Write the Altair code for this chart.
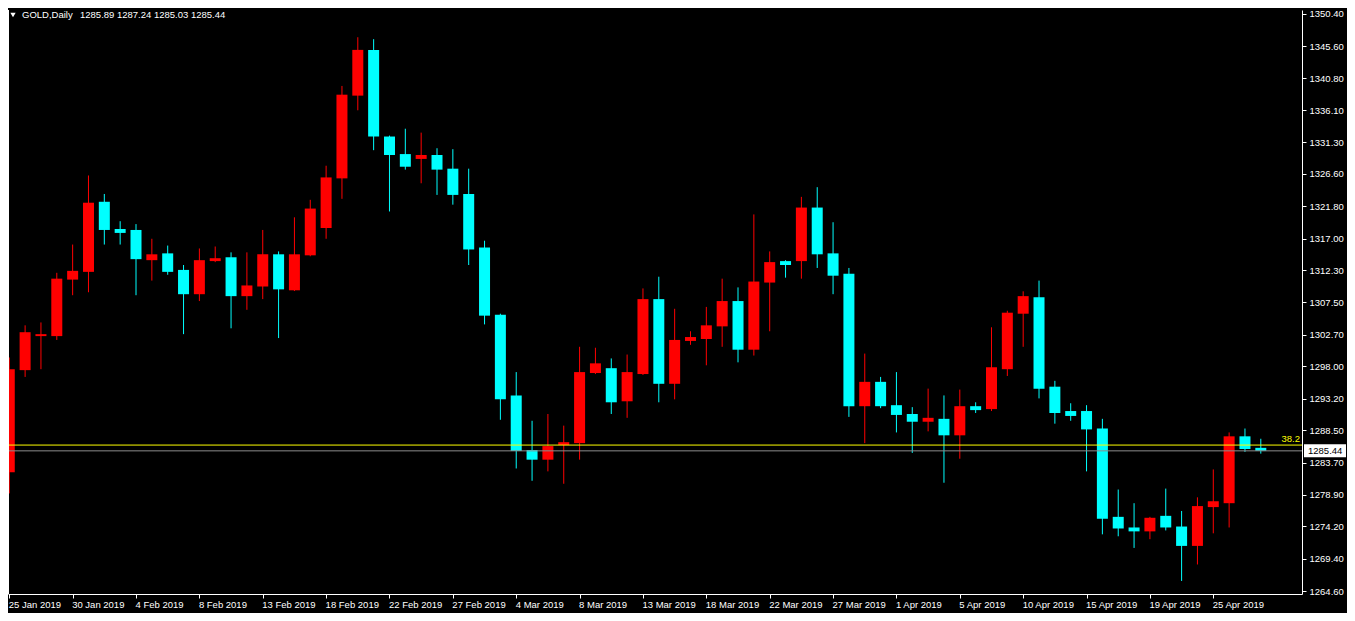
import json
import altair as alt
import pandas as pd

symbol = "GOLD"
timeframe = "Daily"

opens = [1282.25, 1297.44, 1302.50, 1302.50, 1310.90, 1312.05, 1322.47, 1318.42, 1318.28, 1313.79,
         1314.80, 1312.34, 1308.73, 1313.65, 1314.22, 1308.44, 1309.88, 1314.66, 1309.31, 1314.51,
         1318.57, 1325.95, 1338.25, 1345.05, 1332.17, 1329.56, 1328.84, 1329.42, 1327.39, 1323.63,
         1315.67, 1305.69, 1293.68, 1285.57, 1284.13, 1286.30, 1286.59, 1297.01, 1297.73, 1292.81,
         1296.86, 1308.00, 1295.41, 1301.78, 1302.07, 1303.95, 1307.71, 1300.48, 1310.46, 1313.65,
         1313.65, 1321.61, 1314.80, 1311.77, 1292.08, 1295.70, 1292.23, 1290.92, 1289.77, 1290.20,
         1287.75, 1292.08, 1291.65, 1297.58, 1305.83, 1308.29, 1294.98, 1291.36, 1291.36, 1288.76,
         1275.63, 1274.05, 1273.47, 1275.78, 1274.19, 1271.31, 1277.08, 1277.66, 1287.60, 1285.89]
highs = [1299.32, 1304.10, 1304.53, 1311.91, 1316.11, 1326.38, 1323.63, 1319.58, 1319.15, 1316.97,
         1315.96, 1313.07, 1315.53, 1315.82, 1314.95, 1314.95, 1318.28, 1315.09, 1320.16, 1322.76,
         1327.83, 1339.69, 1346.93, 1346.64, 1332.31, 1333.33, 1332.75, 1330.43, 1330.29, 1327.39,
         1316.68, 1305.83, 1297.15, 1289.91, 1290.92, 1289.19, 1300.91, 1300.77, 1299.18, 1299.76,
         1309.59, 1311.33, 1306.56, 1303.22, 1306.84, 1311.04, 1309.74, 1320.59, 1315.09, 1313.79,
         1323.20, 1324.64, 1319.43, 1312.63, 1299.90, 1296.43, 1297.15, 1291.94, 1294.69, 1293.68,
         1294.55, 1292.66, 1303.81, 1306.27, 1309.16, 1310.75, 1295.85, 1292.52, 1292.23, 1290.20,
         1279.69, 1277.66, 1275.63, 1279.83, 1276.50, 1278.53, 1282.68, 1288.18, 1288.76, 1287.24]
lows = [1279.11, 1296.43, 1297.58, 1301.93, 1308.58, 1309.02, 1316.11, 1316.11, 1308.58, 1310.75,
        1311.62, 1302.79, 1307.71, 1313.50, 1303.66, 1306.41, 1308.00, 1302.21, 1309.20, 1314.37,
        1316.97, 1322.91, 1336.07, 1330.14, 1321.03, 1327.25, 1325.22, 1323.49, 1322.04, 1313.07,
        1304.24, 1290.06, 1282.82, 1280.99, 1282.39, 1280.55, 1284.13, 1296.86, 1290.92, 1290.35,
        1296.72, 1292.66, 1293.10, 1301.20, 1298.16, 1300.91, 1298.60, 1299.61, 1303.22, 1311.19,
        1311.04, 1312.63, 1308.73, 1290.49, 1286.59, 1291.79, 1288.18, 1285.14, 1288.34, 1280.70,
        1284.27, 1291.07, 1291.36, 1296.57, 1300.91, 1293.24, 1289.48, 1289.91, 1282.39, 1273.03,
        1272.74, 1271.01, 1272.31, 1273.61, 1266.10, 1268.55, 1273.18, 1274.05, 1285.28, 1285.03]
closes = [1297.58, 1303.08, 1302.79, 1311.04, 1312.20, 1322.33, 1318.28, 1317.84, 1313.94, 1314.66,
          1312.05, 1308.73, 1313.79, 1314.08, 1308.44, 1310.03, 1314.66, 1309.45, 1314.66, 1321.46,
          1326.09, 1338.39, 1345.05, 1332.17, 1329.42, 1327.68, 1329.42, 1327.25, 1323.49, 1315.38,
          1305.54, 1293.10, 1285.43, 1284.13, 1286.15, 1286.73, 1297.15, 1298.45, 1292.66, 1297.15,
          1308.00, 1295.41, 1301.93, 1302.36, 1304.10, 1307.71, 1300.48, 1310.61, 1313.50, 1313.07,
          1321.61, 1314.66, 1311.48, 1292.08, 1295.70, 1292.08, 1290.78, 1289.77, 1290.35, 1287.75,
          1292.08, 1291.50, 1297.87, 1305.98, 1308.44, 1294.69, 1291.07, 1290.63, 1288.63, 1275.35,
          1273.90, 1273.47, 1275.49, 1274.05, 1271.31, 1277.23, 1277.95, 1287.60, 1285.72, 1285.44]

date_labels = ["25 Jan 2019", "30 Jan 2019", "4 Feb 2019", "8 Feb 2019", "13 Feb 2019",
               "18 Feb 2019", "22 Feb 2019", "27 Feb 2019", "4 Mar 2019", "8 Mar 2019",
               "13 Mar 2019", "18 Mar 2019", "22 Mar 2019", "27 Mar 2019", "1 Apr 2019",
               "5 Apr 2019", "10 Apr 2019", "15 Apr 2019", "19 Apr 2019", "25 Apr 2019"]
date_tick_bars = [0, 4, 8, 12, 16, 20, 24, 28, 32, 36, 40, 44, 48, 52, 56, 60, 64, 68, 72, 76]

price_ticks = [1350.40, 1345.60, 1340.80, 1336.10, 1331.30, 1326.60, 1321.80, 1317.00, 1312.30,
               1307.50, 1302.70, 1298.00, 1293.20, 1288.50, 1283.70, 1278.90, 1274.20, 1269.40,
               1264.60]

fibo_level = 1286.30
fibo_label = "38.2"
bid_price = closes[-1]

W = 1294
H = 584
FONT = "Liberation Sans"
FS = 9.5
UP = "#ff0000"
DOWN = "#00ffff"

df = pd.DataFrame({"bar": list(range(len(opens))), "open": opens, "high": highs,
                   "low": lows, "close": closes})

xscale = alt.Scale(domain=[-0.08, 81.6], nice=False, zero=False, padding=0)
yscale = alt.Scale(domain=[1264.16, 1350.98], nice=False, zero=False, padding=0)

label_expr = json.dumps(date_labels) + "[round(datum.value / 4)]"

xaxis = alt.Axis(values=date_tick_bars, labelExpr=label_expr, orient="bottom", grid=False,
                 title=None, domainColor="white", tickColor="white", labelColor="white",
                 tickSize=4, labelPadding=1, labelAlign="left", labelOffset=-1,
                 labelFont=FONT, labelFontSize=FS, labelOverlap=False, labelFlush=False,
                 domainWidth=1, tickWidth=1)
yaxis = alt.Axis(values=price_ticks, format=".2f", orient="right", grid=False, title=None,
                 domainColor="white", tickColor="white", labelColor="white", tickSize=4,
                 labelPadding=3, labelAlign="left", labelBaseline="middle", labelFont=FONT,
                 labelFontSize=FS, labelOverlap=False, labelFlush=False, domainWidth=1,
                 tickWidth=1)

color = alt.condition("datum.close >= datum.open", alt.value(UP), alt.value(DOWN))

base = alt.Chart(df)

wicks = base.mark_rule(strokeWidth=1, clip=True).encode(
    x=alt.X("bar:Q", scale=xscale, axis=xaxis),
    y=alt.Y("low:Q", scale=yscale, axis=yaxis),
    y2="high:Q",
    color=color,
)

bodies = base.mark_bar(size=11, clip=True).encode(
    x=alt.X("bar:Q", scale=xscale, axis=xaxis),
    y=alt.Y("open:Q", scale=yscale, axis=yaxis),
    y2="close:Q",
    color=color,
)

levels = pd.DataFrame({"price": [fibo_level], "label": [fibo_label]})
fibo_line = alt.Chart(levels).mark_rule(color="#ffff00", strokeWidth=1).encode(
    y=alt.Y("price:Q", scale=yscale, axis=yaxis))
fibo_text = alt.Chart(levels).mark_text(color="#ffff00", font=FONT, fontSize=FS, align="right",
                                        baseline="bottom", dy=-1).encode(
    y=alt.Y("price:Q", scale=yscale, axis=yaxis), x=alt.value(W - 2), text="label:N")

bid = pd.DataFrame({"price": [bid_price], "label": [f"{bid_price:.2f}"]})
bid_line = alt.Chart(bid).mark_rule(color="#8c8c8c", strokeWidth=1).encode(
    y=alt.Y("price:Q", scale=yscale, axis=yaxis))
bid_box = alt.Chart(bid).mark_point(
    shape="M-1,-0.31L1,-0.31L1,0.31L-1,0.31Z", size=42 * 42, filled=True, opacity=1,
    color="white", strokeWidth=0).encode(
    y=alt.Y("price:Q", scale=yscale, axis=yaxis), x=alt.value(W + 23))
bid_text = alt.Chart(bid).mark_text(color="black", font=FONT, fontSize=FS, align="left",
                                    baseline="middle").encode(
    y=alt.Y("price:Q", scale=yscale, axis=yaxis), x=alt.value(W + 6), text="label:N")

left_border = alt.Chart(df).mark_rule(color="white", strokeWidth=1).encode(
    x=alt.value(0.5), y=alt.value(0), y2=alt.value(H))

header = pd.DataFrame({
    "name": [f"{symbol},{timeframe}"],
    "ohlc": [" ".join(f"{v:.2f}" for v in (opens[-1], highs[-1], lows[-1], closes[-1]))],
})
tri = alt.Chart(header).mark_point(shape="triangle-down", filled=True, color="white",
                                   opacity=1, size=28, strokeWidth=0).encode(
    x=alt.value(5), y=alt.value(5))
head_name = alt.Chart(header).mark_text(color="white", font=FONT, fontSize=FS, align="left",
                                        baseline="middle").encode(
    x=alt.value(14), y=alt.value(5), text="name:N")
head_ohlc = alt.Chart(header).mark_text(color="white", font=FONT, fontSize=FS, align="left",
                                        baseline="middle").encode(
    x=alt.value(72), y=alt.value(5), text="ohlc:N")

chart = alt.layer(
    wicks, bodies, fibo_line, bid_line, fibo_text, bid_box, bid_text, left_border,
    tri, head_name, head_ohlc
).properties(
    width=W, height=H, background="black",
    autosize=alt.AutoSizeParams(type="none"),
    padding={"left": 0, "top": 2, "right": 45, "bottom": 19},
).configure_view(
    stroke=None
).configure_axis(labelOverlap=False, labelFlush=False)

chart.save("out.html", embed_options={"renderer": "svg", "actions": False})
